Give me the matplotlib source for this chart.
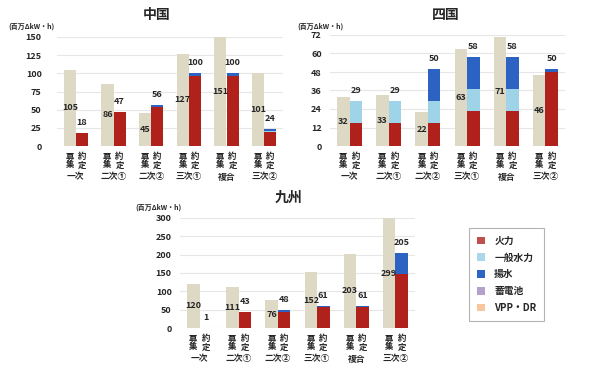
import matplotlib
matplotlib.use('Agg')
import matplotlib.pyplot as plt
from matplotlib.patches import Patch
from matplotlib.transforms import blended_transform_factory, offset_copy
import numpy as np

plt.rcParams['font.family'] = ['Noto Sans CJK JP', 'DejaVu Sans']

# 商品区分
groups = ['一次', '二次①', '二次②', '三次①', '複合', '三次②']

# 中国
chugoku_bosyu = [105, 86, 45, 127, 151, 101]
chugoku_yakutei = [18, 47, 56, 100, 100, 24]
chugoku_thermal = [18, 47, 53, 97, 97, 19]
chugoku_hydro = [0, 0, 0, 0, 0, 1]
chugoku_pumped = [0, 0, 3, 3, 3, 4]

# 四国
shikoku_bosyu = [32, 33, 22, 63, 71, 46]
shikoku_yakutei = [29, 29, 50, 58, 58, 50]
shikoku_thermal = [15, 15, 15, 23, 23, 48]
shikoku_hydro = [14, 14, 14, 14, 14, 0]
shikoku_pumped = [0, 0, 21, 21, 21, 2]

# 九州
kyushu_bosyu = [120, 111, 76, 152, 203, 299]
kyushu_yakutei = [1, 43, 48, 61, 61, 205]
kyushu_thermal = [1, 43, 45, 58, 58, 148]
kyushu_hydro = [0, 0, 0, 0, 0, 0]
kyushu_pumped = [0, 0, 3, 3, 3, 57]

legend_labels = ['火力', '一般水力', '揚水', '蓄電池', 'VPP・DR']
legend_colors = ['#C0504D', '#A8D8EA', '#2E64C4', '#B3A2CC', '#F8C69C']

BEIGE = '#DDD9C5'
RED = '#B0211B'
LBLUE = '#9ED3E8'
BLUE = '#2C62C2'
TXT = '#262626'

W, H = 590, 370
fig = plt.figure(figsize=(W / 100, H / 100), dpi=100)


def px_axes(x0, y0, x1, y1):
    # pixel box (top-left origin) -> axes
    return fig.add_axes([x0 / W, 1 - y1 / H, (x1 - x0) / W, (y1 - y0) / H])


def draw_region(ax, bosyu, yakutei, thermal, hydro, pumped, ymax, step, pad):
    x = np.arange(len(groups))
    bw = 0.32
    ax.bar(x - bw / 2, bosyu, bw, color=BEIGE, zorder=2)
    ax.bar(x + bw / 2, thermal, bw, color=RED, zorder=2)
    ax.bar(x + bw / 2, hydro, bw, bottom=thermal, color=LBLUE, zorder=2)
    b2 = np.array(thermal) + np.array(hydro)
    ax.bar(x + bw / 2, pumped, bw, bottom=b2, color=BLUE, zorder=2)

    ax.set_xlim(-0.5, len(groups) - 0.5)
    ax.set_ylim(0, ymax)
    ax.set_yticks(np.arange(0, ymax + 1, step))
    ax.grid(axis='y', color='#E6E6E6', linewidth=0.8, zorder=0)
    ax.tick_params(axis='y', length=0, labelsize=6.5, colors=TXT, pad=pad)
    for lab in ax.get_yticklabels():
        lab.set_fontweight('bold')
    ax.set_xticks([])
    for s in ax.spines.values():
        s.set_visible(False)

    for i in range(len(groups)):
        ax.text(x[i] - bw / 2, bosyu[i] / 2, str(bosyu[i]), ha='center', va='center',
                fontsize=6.5, fontweight='bold', color=TXT, zorder=3)
        ax.annotate(str(yakutei[i]), (x[i] + bw / 2, yakutei[i]), xytext=(0, 6),
                    textcoords='offset pixels', ha='center', va='bottom',
                    fontsize=6.5, fontweight='bold', color=TXT, zorder=3)

    tr = blended_transform_factory(ax.transData, ax.transAxes)
    for i in range(len(groups)):
        for j, (a, b) in enumerate([('募', '集'), ('約', '定')]):
            xx = x[i] - bw / 2 + j * bw
            ax.text(xx, 0, a, transform=offset_copy(tr, fig=fig, y=-11, units='dots'),
                    ha='center', va='center', fontsize=6, fontweight='bold', color=TXT)
            ax.text(xx, 0, b, transform=offset_copy(tr, fig=fig, y=-19, units='dots'),
                    ha='center', va='center', fontsize=6, fontweight='bold', color=TXT)
        ax.text(x[i], 0, groups[i], transform=offset_copy(tr, fig=fig, y=-31, units='dots'),
                ha='center', va='center', fontsize=6.3, fontweight='bold', color=TXT)
    return ax


ax1 = px_axes(57, 37, 283, 146)
draw_region(ax1, chugoku_bosyu, chugoku_yakutei, chugoku_thermal,
            chugoku_hydro, chugoku_pumped, 150, 25, 11)
ax2 = px_axes(330, 35, 565, 146)
draw_region(ax2, shikoku_bosyu, shikoku_yakutei, shikoku_thermal,
            shikoku_hydro, shikoku_pumped, 72, 12, 6)
ax3 = px_axes(180, 218, 415, 328)
draw_region(ax3, kyushu_bosyu, kyushu_yakutei, kyushu_thermal,
            kyushu_hydro, kyushu_pumped, 300, 50, 6)

# titles and unit labels
for title, tx, ty in [('中国', 157, 15), ('四国', 446, 15), ('九州', 289, 198)]:
    fig.text(tx / W, 1 - ty / H, title, ha='center', va='center', fontsize=10,
             fontweight='bold', color=TXT)
for ux, uy in [(8, 26), (297, 26), (135, 207)]:
    fig.text(ux / W, 1 - uy / H, '(百万ΔkW・h)', ha='left', va='center', fontsize=5,
             fontweight='bold', color=TXT)

handles = [Patch(facecolor=c, edgecolor='none') for c in legend_colors]
leg = fig.legend(handles, legend_labels, loc='upper left',
                 bbox_to_anchor=(469 / W, 1 - 228 / H), frameon=True, fancybox=False,
                 edgecolor='#A0A0A0', fontsize=7, handlelength=0.8, handleheight=0.8,
                 handletextpad=1.0, labelspacing=0.7, borderpad=0.8, borderaxespad=0)
for t in leg.get_texts():
    t.set_fontweight('bold')
    t.set_color(TXT)
leg.get_frame().set_linewidth(0.8)

fig.savefig('out.png', dpi=100)
